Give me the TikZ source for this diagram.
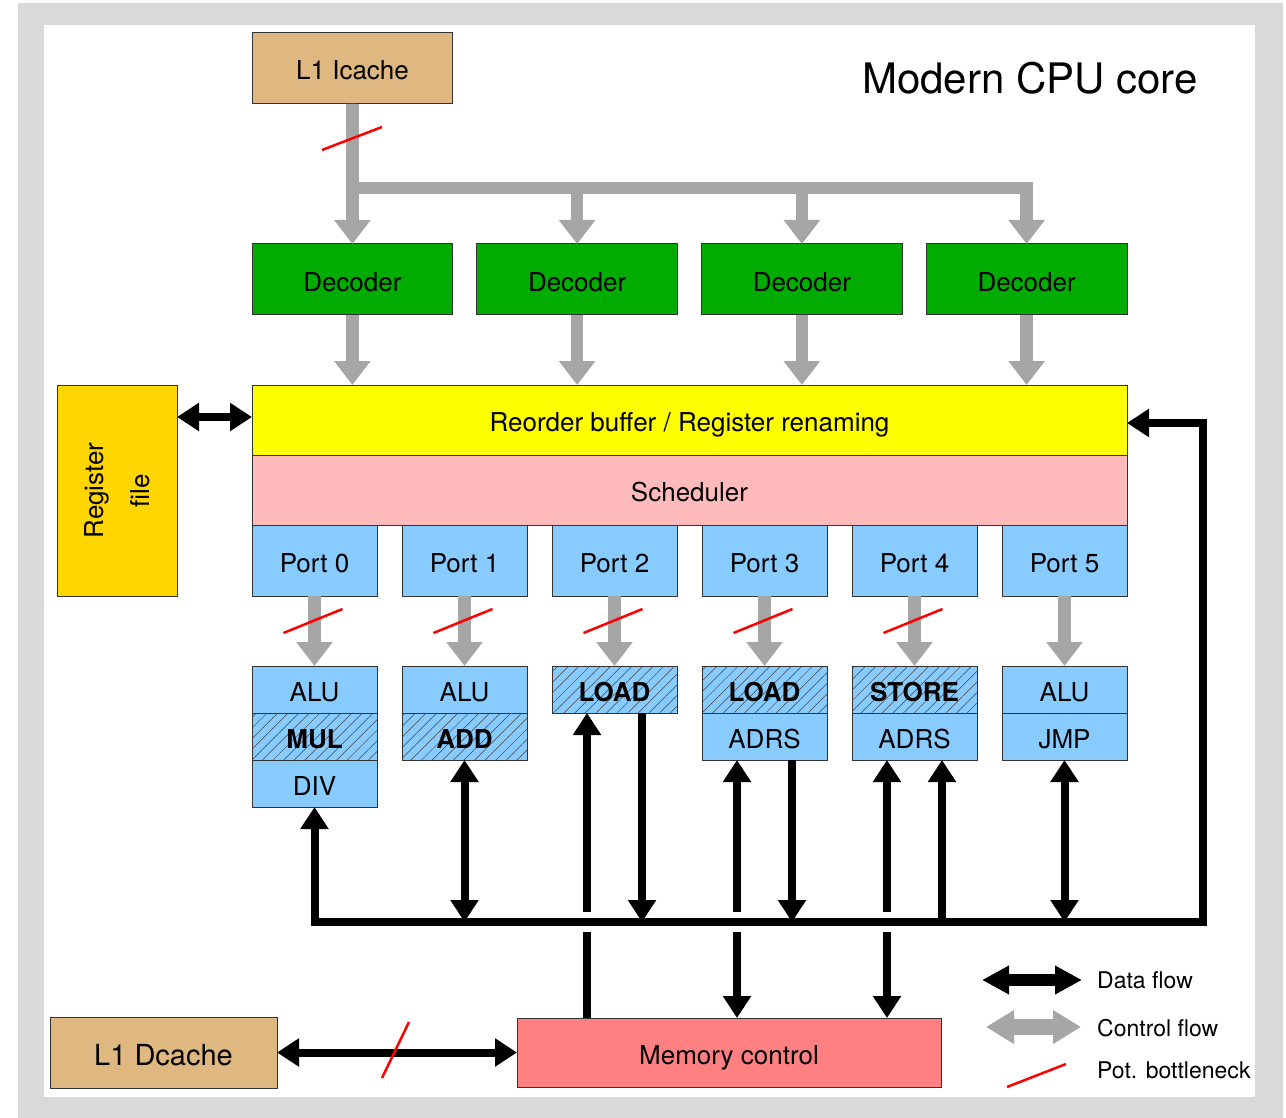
\documentclass[tikz,border=0pt]{standalone}
\usepackage{fontspec}
\setmainfont{TeX Gyre Heros}
\usepackage{xcolor}
\usepackage{tikz}
\usetikzlibrary{arrows.meta, positioning, calc, patterns.meta}
\definecolor{cachetan}{RGB}{222,184,128}
\definecolor{decgreen}{RGB}{0,172,0}
\definecolor{robyellow}{RGB}{255,255,0}
\definecolor{schedpink}{RGB}{255,187,187}
\definecolor{portblue}{RGB}{136,204,255}
\definecolor{reggold}{RGB}{255,214,0}
\definecolor{mempink}{RGB}{255,128,128}
\definecolor{ctlgray}{RGB}{166,166,166}
\definecolor{framegray}{RGB}{217,217,217}
\newcommand{\pxfont}[2]{\fontsize{#1}{#2}\selectfont}

\begin{document}
\begin{tikzpicture}[
    x=1pt, y=-1pt,
    box/.style={rectangle, draw=black!80, line width=1pt, outer sep=0pt, inner sep=0pt, align=center, text height=23pt, text depth=0pt, font=\pxfont{26}{31}},
    cache/.style={box, fill=cachetan, minimum width=200pt, minimum height=71pt},
    decoder/.style={box, fill=decgreen, minimum width=200.75pt, minimum height=71pt},
    port/.style={box, fill=portblue, minimum width=125pt, minimum height=71pt},
    unit/.style={box, fill=portblue, minimum width=125pt, minimum height=47pt},
    hatched/.style={unit, font=\pxfont{26}{31}\bfseries, postaction={pattern={Lines[angle=45, distance=7.5pt, line width=0.5pt]}, pattern color=black!75}},
    ctl/.style={ctlgray, line width=12.7pt, >={Triangle[width=35pt, length=24pt]}},
    dat/.style={black, line width=8pt, >={Triangle[width=27pt, length=22pt]}},
    bneck/.style={red, line width=2.5pt},
    legend/.style={font=\pxfont{23}{28}, anchor=west, inner sep=0pt}
]
    % frame
    \useasboundingbox (0,0) rectangle (1286,1118);
    \fill[framegray] (18,3) rectangle (1283,1118);
    \fill[white] (44,25) rectangle (1255,1097);

    \node[font=\pxfont{42}{50}] (title) at (1030,78) {Modern CPU core};

    % Front end
    \node[cache] (icache) at (352.5,68.5) {L1 Icache};
    \node[decoder, anchor=north west] (dec1) at (252,244) {Decoder};
    \node[decoder, right=24pt of dec1] (dec2) {Decoder};
    \node[decoder, right=24pt of dec2] (dec3) {Decoder};
    \node[decoder, right=24pt of dec3] (dec4) {Decoder};

    % Out-of-order core
    \node[box, fill=robyellow, minimum width=875pt, minimum height=70pt, below=70pt of dec1.south west, anchor=north west] (rob) {Reorder buffer / Register renaming};
    \node[box, fill=schedpink, minimum width=875pt, minimum height=70pt, below=0pt of rob] (sched) {Scheduler};
    \node[rectangle, draw=black!80, line width=1pt, outer sep=0pt, fill=reggold, align=center, font=\pxfont{26}{31},
          minimum width=211pt, minimum height=120pt, rotate=90] (regf) at (117,490.5) {Register\\[15pt]file};

    % Ports
    \node[port, anchor=north west] (p0) at (sched.south west) {Port 0};
    \node[port, right=25pt of p0] (p1) {Port 1};
    \node[port, right=25pt of p1] (p2) {Port 2};
    \node[port, right=25pt of p2] (p3) {Port 3};
    \node[port, right=25pt of p3] (p4) {Port 4};
    \node[port, right=25pt of p4] (p5) {Port 5};

    % Execution units
    \node[unit, below=70pt of p0] (alu0) {ALU};
    \node[hatched, below=0pt of alu0] (mul0) {MUL};
    \node[unit, below=0pt of mul0] (div0) {DIV};
    \node[unit, below=70pt of p1] (alu1) {ALU};
    \node[hatched, below=0pt of alu1] (add1) {ADD};
    \node[hatched, below=70pt of p2] (load2) {LOAD};
    \node[hatched, below=70pt of p3] (load3) {LOAD};
    \node[unit, below=0pt of load3] (adrs3) {ADRS};
    \node[hatched, below=70pt of p4] (store4) {STORE};
    \node[unit, below=0pt of store4] (adrs4) {ADRS};
    \node[unit, below=70pt of p5] (alu5) {ALU};
    \node[unit, below=0pt of alu5] (jmp5) {JMP};

    % Memory side
    \node[box, fill=mempink, minimum width=424pt, minimum height=69pt] (mem) at (729,1052.5) {Memory control};
    \node[box, fill=cachetan, minimum width=227pt, minimum height=71pt, font=\pxfont{29}{35}, text height=26pt] (dcache) at (163.5,1052.5) {L1 Dcache};

    % Control flow
    \coordinate (split) at (352.5,188);
    \draw[ctl,->] (icache) -- (dec1);
    \draw[ctl,->] (split) -| (dec4);
    \foreach \d in {dec2,dec3} \draw[ctl,->] (split -| \d) -- (\d);
    \foreach \d in {dec1,dec2,dec3,dec4} \draw[ctl,->] (\d) -- (\d |- rob.north);
    \foreach \p/\u in {p0/alu0,p1/alu1,p2/load2,p3/load3,p4/store4,p5/alu5} \draw[ctl,->] (\p) -- (\u);

    % Bottlenecks
    \draw[bneck] ($(icache.south)+(-30.5,46)$) -- ++(60,-23);
    \foreach \p in {p0,p1,p2,p3,p4} \draw[bneck] ($(\p.south)+(-31,37)$) -- ++(59,-24);

    % Data flow
    \draw[dat,<->] ($(regf.south |- rob.west)+(0,-3)$) -- ($(rob.west)+(0,-3)$);
    \draw[dat,->] ($(load2.south |- mem.north)+(-27.5,0)$) -- ($(load2.south)+(-27.5,0)$);
    \draw[dat,<->] ($(adrs3.south |- mem.north)+(-27.5,0)$) -- ($(adrs3.south)+(-27.5,0)$);
    \draw[dat,<->] ($(adrs4.south |- mem.north)+(-27.5,0)$) -- ($(adrs4.south)+(-27.5,0)$);

    % Result bus
    \coordinate (busL) at (div0.south |- 0,922);
    \coordinate (busR) at (1203,922);
    \foreach \n in {load2,adrs3,adrs4} \fill[white] ($(\n.south |- busL)+(-33.5,-10)$) rectangle ++(12,20);
    \draw[dat,<->,line join=miter] (div0) -- (busL) -- (busR) |- ($(rob.east)+(0,3)$);
    \draw[dat,->] ($(load2.south)+(27.5,0)$) -- ($(load2.south |- busL)+(27.5,0)$);
    \draw[dat,->] ($(adrs3.south)+(27.5,0)$) -- ($(adrs3.south |- busL)+(27.5,0)$);
    \draw[dat,<-] ($(adrs4.south)+(27.5,0)$) -- ($(adrs4.south |- busL)+(27.5,0)$);
    \draw[dat,<->] (add1) -- (add1 |- busL);
    \draw[dat,<->] (jmp5) -- (jmp5 |- busL);

    \draw[dat,<->] (dcache) -- (mem);
    \draw[bneck] ($(dcache.east)+(105,25.5)$) -- ++(27,-56);

    % Legend
    \coordinate (lgdA) at (982,980);
    \coordinate (lgdB) at (1082,980);
    \coordinate (lgcA) at (986,1027);
    \coordinate (lgcB) at (1081,1027);
    \coordinate (lgbA) at (1007,1087);
    \coordinate (lgbB) at (1066,1064);
    \draw[dat,<->,line width=12pt,>={Triangle[width=27pt,length=27pt]}] (lgdA) -- (lgdB);
    \draw[ctl,<->,line width=16pt,>={Triangle[width=32pt,length=28pt]}] (lgcA) -- (lgcB);
    \draw[bneck] (lgbA) -- (lgbB);
    \node[legend] (lgdata) at (1097,980) {Data flow};
    \node[legend] (lgctl) at (1097,1028) {Control flow};
    \node[legend] (lgbn) at (1097,1070) {Pot. bottleneck};
\end{tikzpicture}
\end{document}
